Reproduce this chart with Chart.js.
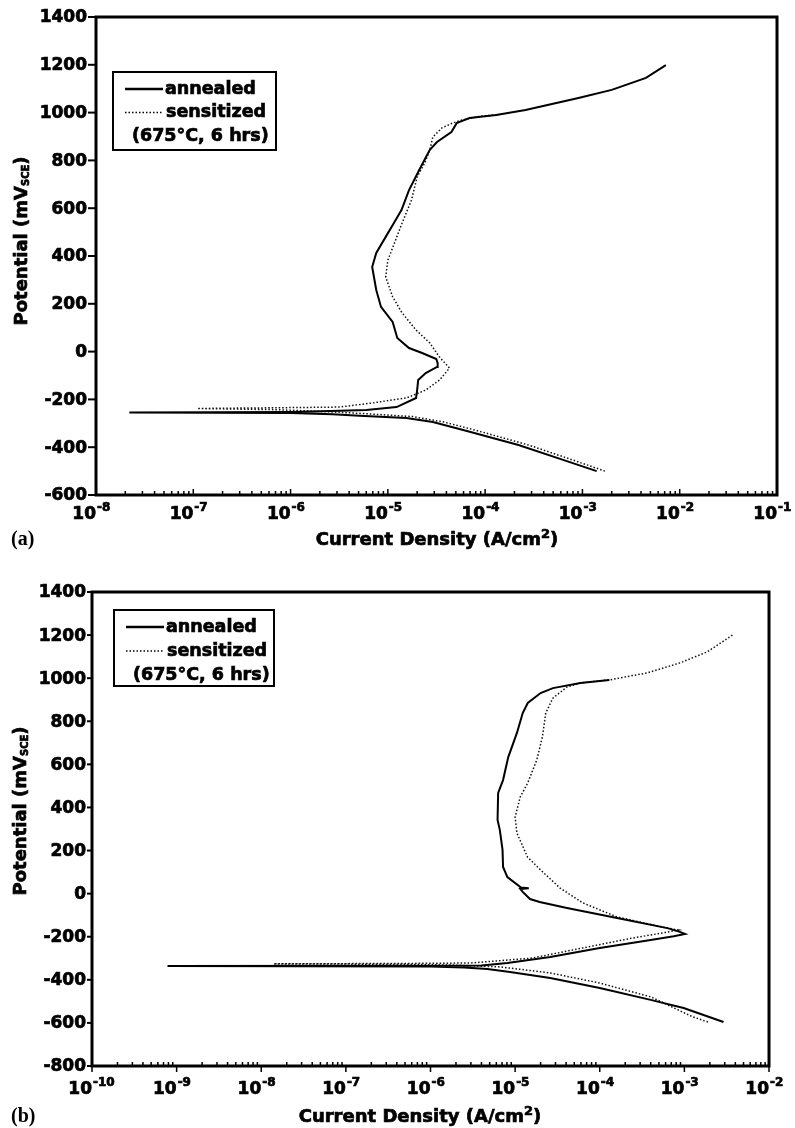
<!DOCTYPE html>
<html>
<head>
<meta charset="utf-8">
<script src="https://cdn.jsdelivr.net/npm/chart.js@4.4.0/dist/chart.umd.min.js"></script>
<style>
  body { margin: 0; background: #fff; }
  canvas { position: absolute; left: 0; }
  #chartA { top: 0; }
  #chartB { top: 560px; }
</style>
</head>
<body>
<canvas id="chartA" width="795" height="560"></canvas>
<canvas id="chartB" width="795" height="568"></canvas>
<script>
// ---- panel (a): potential (mV) and current density (A/cm2) ----
const annealedA_E = [-500, -450, -391, -332, -295, -278, -268, -262, -257, -255,
  -253, -248, -244, -232, -194, -161, -119, -90, -64, -48,
  -31, -6, 15, 57, 124, 187, 258, 354, 413, 480,
  542, 592, 676, 760, 844, 877, 919, 956, 977, 990,
  1011, 1061, 1095, 1145, 1199];
const annealedA_I = [1.4e-3, 6.0e-4, 2.2e-4, 6.5e-5, 2.9e-5, 1.55e-5, 5.1e-6, 2.7e-6, 1.0e-6, 2.2e-8,
  1.0e-6, 3.2e-6, 6.0e-6, 1.23e-5, 1.95e-5, 2.0e-5, 2.05e-5, 2.45e-5, 3.2e-5, 3.25e-5,
  3.15e-5, 2.25e-5, 1.65e-5, 1.25e-5, 1.12e-5, 8.5e-6, 7.6e-6, 6.9e-6, 7.6e-6, 9.5e-6,
  1.17e-5, 1.38e-5, 1.65e-5, 2.1e-5, 2.7e-5, 3.2e-5, 4.5e-5, 5.1e-5, 6.9e-5, 1.3e-4,
  2.6e-4, 9.1e-4, 2.0e-3, 4.5e-3, 7.2e-3];

const sensitizedA_E = [-500, -450, -391, -332, -295, -272, -258, -250, -243, -238,
  -235, -232, -215, -194, -161, -119, -69, -23, 36, 90,
  162, 229, 312, 383, 454, 538, 634, 731, 790, 844,
  898, 936, 956, 969, 985, 992];
const sensitizedA_I = [1.7e-3, 7.5e-4, 2.8e-4, 8.5e-5, 3.8e-5, 1.8e-5, 5.0e-6, 2.0e-6, 7.0e-7, 1.1e-7,
  7.0e-7, 3.2e-6, 6.9e-6, 1.55e-5, 2.45e-5, 3.4e-5, 4.3e-5, 3.4e-5, 2.7e-5, 1.95e-5,
  1.4e-5, 1.12e-5, 9.5e-6, 1.0e-5, 1.17e-5, 1.4e-5, 1.75e-5, 2.0e-5, 2.4e-5, 2.7e-5,
  2.9e-5, 3.6e-5, 4.6e-5, 5.8e-5, 9.0e-5, 1.4e-4];

const yTicksA = [-600, -400, -200, 0, 200, 400, 600, 800, 1000, 1200, 1400];
const xExpA = [-8, -7, -6, -5, -4, -3, -2, -1];

// ---- panel (b) ----
const annealedB_E = [-596, -531, -493, -438, -392, -364, -350, -343, -338, -336,
  -335, -333, -322, -294, -252, -215, -198, -187, -175, -160,
  -113, -67, -39, -25, 8, 22, 25, 28, 31, 77,
  124, 203, 295, 342, 467, 527, 634, 746, 838, 885,
  931, 954, 978, 992];
const annealedB_I = [2.9e-3, 9.8e-4, 4.0e-4, 1.0e-4, 2.6e-5, 8.7e-6, 4.7e-6, 2.5e-6, 1.0e-6, 7.8e-10,
  1.0e-6, 4.0e-6, 8.1e-6, 2.6e-5, 1.0e-4, 4.0e-4, 7.5e-4, 1.02e-3, 8.5e-4, 6.3e-4,
  1.6e-4, 4.1e-5, 1.95e-5, 1.5e-5, 1.23e-5, 1.15e-5, 1.45e-5, 1.15e-5, 1.15e-5, 8.1e-6,
  7.2e-6, 7.1e-6, 6.6e-6, 6.2e-6, 6.3e-6, 7.2e-6, 8.3e-6, 1.05e-5, 1.23e-5, 1.41e-5,
  2.0e-5, 2.8e-5, 5.9e-5, 1.3e-4];

const sensitizedB_E = [-596, -572, -479, -415, -368, -340, -332, -328, -326, -324,
  -322, -299, -252, -206, -180, -169, -158, -108, -43, 26,
  110, 170, 281, 356, 449, 514, 620, 727, 838, 908,
  959, 978, 992, 1024, 1071, 1122, 1200];
const sensitizedB_I = [1.9e-3, 1.26e-3, 4.0e-4, 1.0e-4, 2.6e-5, 6.6e-6, 2.0e-6, 5.0e-7, 1.4e-8, 5.0e-7,
  3.0e-6, 1.6e-5, 6.3e-5, 2.45e-4, 6.0e-4, 8.5e-4, 6.0e-4, 1.6e-4, 6.3e-5, 3.4e-5,
  2.0e-5, 1.4e-5, 1.05e-5, 1.0e-5, 1.15e-5, 1.41e-5, 1.8e-5, 2.1e-5, 2.3e-5, 2.8e-5,
  4.1e-5, 5.9e-5, 1.3e-4, 3.6e-4, 8.9e-4, 1.86e-3, 3.7e-3];

const yTicksB = [-800, -600, -400, -200, 0, 200, 400, 600, 800, 1000, 1200, 1400];
const xExpB = [-10, -9, -8, -7, -6, -5, -4, -3, -2];

const seriesNames = ["annealed", "sensitized"];
const legendNote = "(675°C, 6 hrs)";

const FONT = '"DejaVu Sans", "Liberation Sans", sans-serif';

function pts(I, E) {
  return I.map((v, i) => ({ x: v, y: E[i] }));
}

// filled text with a thin outline, the original uses a very heavy face
function heavyText(ctx, t, x, y) {
  ctx.fillText(t, x, y);
  ctx.strokeText(t, x, y);
}

// draws pieces [text, size, dy] next to each other
function drawRich(ctx, parts, x, y, align) {
  let w = 0;
  parts.forEach(p => { ctx.font = 'bold ' + p[1] + 'px ' + FONT; w += ctx.measureText(p[0]).width; });
  let cx = align === 'center' ? x - w / 2 : (align === 'right' ? x - w : x);
  ctx.textAlign = 'left';
  parts.forEach(p => {
    ctx.font = 'bold ' + p[1] + 'px ' + FONT;
    heavyText(ctx, p[0], cx, y + p[2]);
    cx += ctx.measureText(p[0]).width;
  });
}

function decor(cfg) {
  return {
    id: 'decor',
    afterDraw(chart) {
      const ctx = chart.ctx, a = chart.chartArea;
      const xs = chart.scales.x, ys = chart.scales.y;
      ctx.save();
      ctx.strokeStyle = '#000';
      ctx.fillStyle = '#000';

      // frame
      ctx.lineWidth = 3;
      ctx.strokeRect(a.left, a.top, a.right - a.left, a.bottom - a.top);

      // y ticks and labels
      ctx.textAlign = 'right';
      ctx.textBaseline = 'middle';
      ctx.font = 'bold 17px ' + FONT;
      cfg.yTicks.forEach(v => {
        const py = ys.getPixelForValue(v);
        ctx.lineWidth = 2;
        ctx.beginPath();
        ctx.moveTo(a.left - cfg.yTickLen, py);
        ctx.lineTo(a.left, py);
        ctx.stroke();
        ctx.lineWidth = 0.7;
        heavyText(ctx, String(v), a.left - cfg.yTickLen - 1, py + 1);
      });

      // x ticks: decades plus 2..9 minor ticks
      cfg.xExp.forEach((e, i) => {
        const px = xs.getPixelForValue(Math.pow(10, e));
        ctx.lineWidth = 1.5;
        ctx.beginPath();
        ctx.moveTo(px, a.bottom + cfg.majorDown);
        ctx.lineTo(px, a.bottom - cfg.majorUp);
        ctx.stroke();
        if (i < cfg.xExp.length - 1) {
          for (let k = 2; k <= 9; k++) {
            const mx = xs.getPixelForValue(k * Math.pow(10, e));
            ctx.beginPath();
            ctx.moveTo(mx, a.bottom);
            ctx.lineTo(mx, a.bottom - cfg.minorUp);
            ctx.stroke();
          }
        }
        ctx.lineWidth = 0.7;
        ctx.textBaseline = 'middle';
        ctx.textAlign = 'right';
        ctx.font = 'bold 17px ' + FONT;
        heavyText(ctx, '10', px, a.bottom + cfg.xLabelDy);
        ctx.textAlign = 'left';
        ctx.font = 'bold 12px ' + FONT;
        heavyText(ctx, String(e), px + 1, a.bottom + cfg.xLabelDy - 7);
      });

      // axis titles
      ctx.lineWidth = 0.7;
      ctx.textBaseline = 'middle';
      drawRich(ctx, [['Current Density (A/cm', 18, 0], ['2', 13, -5], [')', 18, 0]],
        cfg.xTitle[0], cfg.xTitle[1], 'center');
      ctx.save();
      ctx.translate(cfg.yTitle[0], cfg.yTitle[1]);
      ctx.rotate(-Math.PI / 2);
      drawRich(ctx, [['Potential (mV', 18, 0], ['SCE', 10, 4], [')', 18, 0]], 0, 0, 'center');
      ctx.restore();

      // panel letter
      ctx.font = 'bold 20px "Liberation Serif", serif';
      ctx.textAlign = 'left';
      ctx.fillText(cfg.panel, 11, cfg.panelY);

      // legend box
      const L = cfg.legend;
      ctx.lineWidth = 2;
      ctx.strokeRect(L.x, L.y, L.w, L.h);
      const rowY = [L.y + L.r0, L.y + L.r0 + L.dr, L.y + L.r0 + 2 * L.dr];
      ctx.lineWidth = 2.5;
      ctx.setLineDash([]);
      ctx.beginPath();
      ctx.moveTo(L.x + 12, rowY[0]); ctx.lineTo(L.x + 50, rowY[0]); ctx.stroke();
      ctx.lineWidth = 1.5;
      ctx.setLineDash([1.5, 2]);
      ctx.beginPath();
      ctx.moveTo(L.x + 12, rowY[1]); ctx.lineTo(L.x + 50, rowY[1]); ctx.stroke();
      ctx.setLineDash([]);
      ctx.lineWidth = 0.7;
      ctx.font = 'bold 17.5px ' + FONT;
      ctx.textAlign = 'left';
      heavyText(ctx, seriesNames[0], L.x + 52, rowY[0]);
      heavyText(ctx, seriesNames[1], L.x + 53, rowY[1]);
      heavyText(ctx, legendNote, L.x + 19, rowY[2]);
      ctx.restore();
    }
  };
}

function makeChart(id, sets, xMin, xMax, yMin, yMax, pad, cfg) {
  return new Chart(document.getElementById(id), {
    type: 'scatter',
    data: {
      datasets: [
        {
          label: seriesNames[0],
          data: pts(sets[0], sets[1]),
          showLine: true,
          borderColor: '#000',
          borderWidth: 2,
          pointRadius: 0,
          tension: 0
        },
        {
          label: seriesNames[1],
          data: pts(sets[2], sets[3]),
          showLine: true,
          borderColor: '#111',
          borderWidth: 1.5,
          borderDash: [1.5, 2],
          pointRadius: 0,
          tension: 0
        }
      ]
    },
    options: {
      responsive: false,
      animation: false,
      layout: { padding: pad },
      plugins: { legend: { display: false }, tooltip: { enabled: false } },
      scales: {
        x: { type: 'logarithmic', min: xMin, max: xMax, display: false },
        y: { type: 'linear', min: yMin, max: yMax, display: false }
      }
    },
    plugins: [decor(cfg)]
  });
}

makeChart('chartA', [annealedA_I, annealedA_E, sensitizedA_I, sensitizedA_E],
  1e-8, 1e-1, -600, 1400,
  { left: 96, top: 17, right: 18, bottom: 65 },
  {
    yTicks: yTicksA, xExp: xExpA, yTickLen: 8,
    majorDown: 0, majorUp: 6, minorUp: 4, xLabelDy: 20,
    xTitle: [437, 540], yTitle: [22, 241],
    panel: '(a)', panelY: 540,
    legend: { x: 113, y: 72, w: 163, h: 78, r0: 17, dr: 23.5 }
  });

makeChart('chartB', [annealedB_I, annealedB_E, sensitizedB_I, sensitizedB_E],
  1e-10, 1e-2, -800, 1400,
  { left: 92, top: 32, right: 26, bottom: 62 },
  {
    yTicks: yTicksB, xExp: xExpB, yTickLen: 5,
    majorDown: 6, majorUp: 0, minorUp: 4, xLabelDy: 24,
    xTitle: [420, 557], yTitle: [21, 251],
    panel: '(b)', panelY: 557,
    legend: { x: 114, y: 50, w: 160, h: 76, r0: 17, dr: 24 }
  });
</script>
</body>
</html>
